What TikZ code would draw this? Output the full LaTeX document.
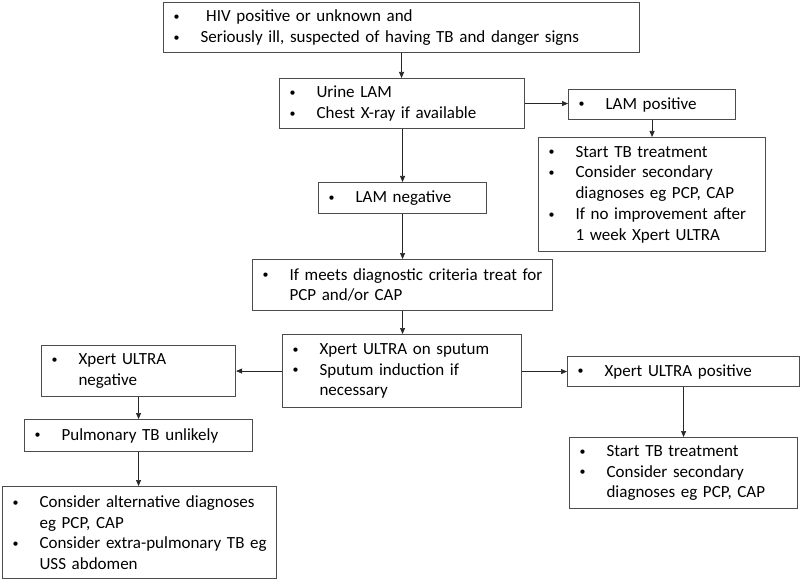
\documentclass[tikz,border=0pt]{standalone}
\usepackage{fontspec}
\setmainfont{Carlito}
\usetikzlibrary{arrows.meta}
\newcommand\bitem[1]{\hspace*{10pt}\makebox[27pt][l]{\raisebox{1.3pt}{\fontsize{12}{12}\selectfont •}}#1}
\newcommand\cont[1]{\hspace*{37pt}#1}
\tikzset{
  box/.style={draw=black!70, line width=1.1pt, anchor=north west, inner sep=0pt,
    align=left, font=\fontsize{17}{20.7}\selectfont},
  arr/.style={draw=black!85, line width=0.7pt, -{Triangle[length=6pt,width=5pt]}}
}
\begin{document}
\begin{tikzpicture}[x=1pt,y=-1pt]
\useasboundingbox (0,0) rectangle (800,580);
\node[box, text width=476pt, minimum height=50pt] (top) at (163,2)
  {\bitem{\ HIV positive or unknown and}\\\bitem{Seriously ill, suspected of having TB and danger signs}};
\node[box, text width=245pt, minimum height=50pt] (urine) at (279,78)
  {\bitem{Urine LAM}\\\bitem{Chest X-ray if available}};
\node[box, text width=167pt, minimum height=30pt] (lampos) at (568,89)
  {\bitem{LAM positive}};
\node[box, text width=227pt, minimum height=114pt] (tb1) at (538,137)
  {\bitem{Start TB treatment}\\\bitem{Consider secondary}\\\cont{diagnoses eg PCP, CAP}\\\bitem{If no improvement after}\\\cont{1 week Xpert ULTRA}};
\node[box, text width=168pt, minimum height=31pt] (lamneg) at (318,182)
  {\bitem{LAM negative}};
\node[box, text width=300pt, minimum height=51pt] (meets) at (252,259)
  {\bitem{If meets diagnostic criteria treat for}\\\cont{PCP and/or CAP}};
\node[box, text width=239pt, minimum height=73pt] (sputum) at (282,334)
  {\bitem{Xpert ULTRA on sputum}\\\bitem{Sputum induction if}\\\cont{necessary}};
\node[box, text width=194pt, minimum height=51pt] (neg) at (41,345)
  {\bitem{Xpert ULTRA}\\\cont{negative}};
\node[box, text width=232pt, minimum height=30pt] (pos) at (567,356)
  {\bitem{Xpert ULTRA positive}};
\node[box, text width=228pt, minimum height=32pt] (pulm) at (24,419)
  {\bitem{Pulmonary TB unlikely}};
\node[box, text width=228pt, minimum height=71pt] (tb2) at (569,437)
  {\bitem{Start TB treatment}\\\bitem{Consider secondary}\\\cont{diagnoses eg PCP, CAP}};
\node[box, text width=274pt, minimum height=92pt] (alt) at (2,486)
  {\bitem{Consider alternative diagnoses}\\\cont{eg PCP, CAP}\\\bitem{Consider extra-pulmonary TB eg}\\\cont{USS abdomen}};

\draw[arr] (top.south) -- (top.south |- urine.north);
\draw[arr] (urine.east) -- (urine.east -| lampos.west);
\draw[arr] (lampos.south) -- (lampos.south |- tb1.north);
\draw[arr] (lamneg.north |- urine.south) -- (lamneg.north);
\draw[arr] (lamneg.south) -- (lamneg.south |- meets.north);
\draw[arr] (meets.south) -- (meets.south |- sputum.north);
\draw[arr] (sputum.west |- neg.east) -- (neg.east);
\draw[arr] (sputum.east |- pos.west) -- (pos.west);
\draw[arr] (neg.south) -- (neg.south |- pulm.north);
\draw[arr] (pulm.south) -- (pulm.south |- alt.north);
\draw[arr] (pos.south) -- (pos.south |- tb2.north);
\end{tikzpicture}
\end{document}
